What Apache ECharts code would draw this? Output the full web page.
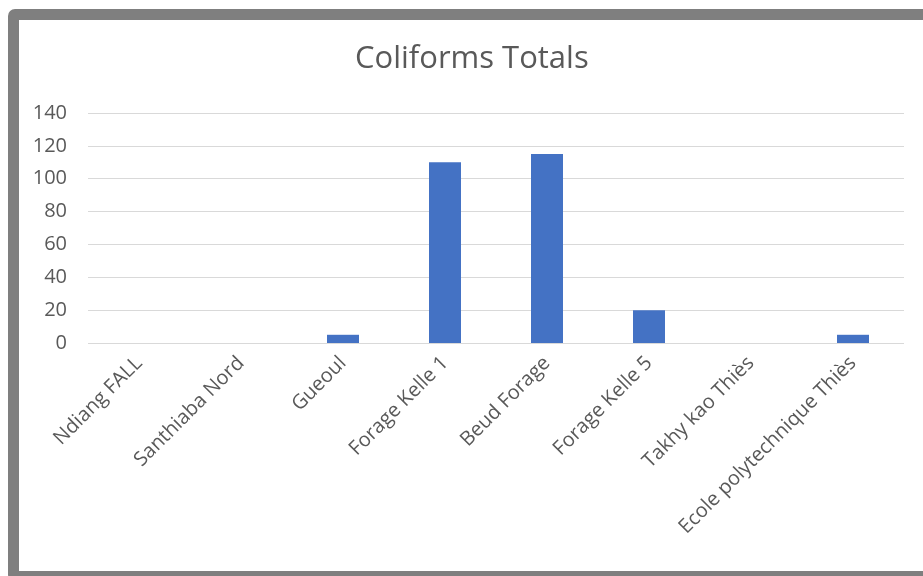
<!DOCTYPE html>
<html>
<head>
<meta charset="utf-8">
<script src="https://cdn.jsdelivr.net/npm/echarts@6/dist/echarts.min.js"></script>
<style>
  html, body { margin: 0; padding: 0; background: #ffffff; overflow: hidden; }
  #chart { position: absolute; left: 0; top: 0; width: 923px; height: 576px; }
  #frame {
    position: absolute; left: 8px; top: 9px; width: 940px; height: 551px;
    border: 11px solid #7f7f7f; border-radius: 7px; pointer-events: none;
  }
</style>
</head>
<body>
<div id="chart"></div>
<div id="frame"></div>
<script>
// Total coliforms per sampling site
const sites = ['Ndiang FALL', 'Santhiaba Nord', 'Gueoul', 'Forage Kelle 1',
               'Beud Forage', 'Forage Kelle 5', 'Takhy kao Thiès', 'Ecole polytechnique Thiès'];
const coliforms = [0, 0, 5, 110, 115, 20, 0, 5];
const yTicks = [0, 20, 40, 60, 80, 100, 120, 140];

const font = '"Open Sans", "Noto Sans", sans-serif';
const chart = echarts.init(document.getElementById('chart'), null, { renderer: 'canvas' });
chart.setOption({
  animation: false,
  backgroundColor: '#ffffff',
  title: {
    text: 'Coliforms Totals',
    left: 355,
    top: 44,
    padding: 0,
    textStyle: { fontFamily: font, fontSize: 31, fontWeight: 'normal', color: '#595959' }
  },
  grid: { left: 88, right: 19, top: 113, bottom: 233, containLabel: false },
  xAxis: {
    type: 'category',
    data: sites,
    axisLine: { show: false },
    axisTick: { show: false },
    axisLabel: {
      rotate: 45, interval: 0, margin: 17,
      fontFamily: font, fontSize: 20, color: '#595959'
    }
  },
  yAxis: {
    type: 'value',
    min: yTicks[0],
    max: yTicks[yTicks.length - 1],
    interval: yTicks[1] - yTicks[0],
    axisLine: { show: false },
    axisTick: { show: false },
    axisLabel: { margin: 21, fontFamily: font, fontSize: 20, color: '#595959' },
    splitLine: { lineStyle: { color: '#d9d9d9', width: 1 } }
  },
  series: [{
    type: 'bar',
    data: coliforms,
    barWidth: 32,
    itemStyle: { color: '#4472c4', borderWidth: 0 }
  }]
});
</script>
</body>
</html>
